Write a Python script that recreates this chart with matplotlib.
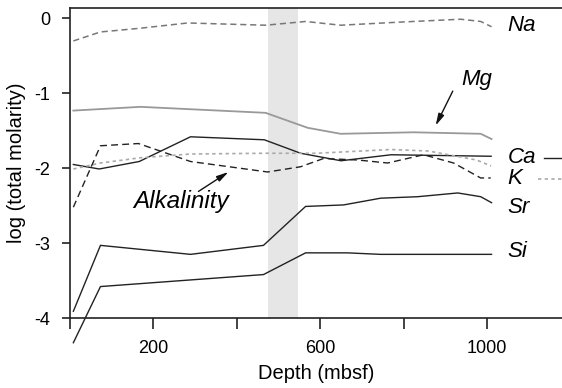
import matplotlib.pyplot as plt

plt.rcParams['font.family'] = ['Liberation Sans', 'DejaVu Sans']

# depth (mbsf) and log total molarity
na_depth = [8, 73, 169, 282, 469, 565, 649, 786, 937, 985, 1011]
na_val = [-0.30, -0.18, -0.13, -0.06, -0.09, -0.04, -0.09, -0.05, -0.01, -0.04, -0.11]

mg_depth = [8, 169, 469, 570, 649, 824, 985, 1011]
mg_val = [-1.23, -1.18, -1.26, -1.46, -1.54, -1.52, -1.54, -1.61]

ca_depth = [8, 70, 166, 289, 466, 553, 650, 770, 1010]
ca_val = [-1.95, -2.01, -1.91, -1.58, -1.62, -1.80, -1.90, -1.82, -1.84]

k_depth = [8, 73, 169, 289, 469, 590, 770, 860, 975, 1010]
k_val = [-2.01, -1.93, -1.86, -1.81, -1.80, -1.80, -1.75, -1.77, -1.89, -1.97]

alk_depth = [8, 73, 164, 289, 474, 553, 608, 690, 762, 848, 920, 985, 1009]
alk_val = [-2.52, -1.70, -1.67, -1.91, -2.05, -1.98, -1.87, -1.89, -1.93, -1.82, -1.93, -2.13, -2.13]

sr_depth = [8, 73, 289, 464, 565, 656, 745, 834, 930, 985, 1011]
sr_val = [-3.91, -3.03, -3.15, -3.03, -2.51, -2.49, -2.40, -2.38, -2.33, -2.38, -2.46]

si_depth = [8, 73, 464, 565, 665, 745, 1011]
si_val = [-4.33, -3.58, -3.42, -3.13, -3.13, -3.15, -3.15]

band = (476, 546)

fig = plt.figure(figsize=(5.62, 3.88), dpi=100)
ax = fig.add_axes([0.1246, 0.1804, 0.8754, 0.7990])

ax.axvspan(band[0], band[1], color='#e6e6e6', lw=0, zorder=0)

ax.plot(na_depth, na_val, color='#777777', lw=1.1, dashes=(4, 2.5))
ax.plot(mg_depth, mg_val, color='#999999', lw=1.3)
ax.plot(ca_depth, ca_val, color='#222222', lw=1.0)
ax.plot(k_depth, k_val, color='#aaaaaa', lw=1.2, dashes=(2, 2))
ax.plot(alk_depth, alk_val, color='#222222', lw=1.0, dashes=(5, 3))
ax.plot(sr_depth, sr_val, color='#222222', lw=1.0, clip_on=False)
ax.plot(si_depth, si_val, color='#222222', lw=1.0, clip_on=False)

# labels at right
lab_x = 1050
ax.text(lab_x, -0.09, 'Na', style='italic', fontsize=16, va='center')
ax.text(lab_x, -1.85, 'Ca', style='italic', fontsize=16, va='center')
ax.text(lab_x, -2.14, 'K', style='italic', fontsize=16, va='center')
ax.text(lab_x, -2.53, 'Sr', style='italic', fontsize=16, va='center')
ax.text(lab_x, -3.11, 'Si', style='italic', fontsize=16, va='center')
ax.plot([1136, 1180], [-1.86, -1.86], color='#222222', lw=1.0, clip_on=False)
ax.plot([1122, 1180], [-2.15, -2.15], color='#aaaaaa', lw=1.2, dashes=(2, 2), clip_on=False)

arrow = dict(arrowstyle='-|>,head_length=0.7,head_width=0.18', color='#111111',
             lw=1.0, shrinkA=0, shrinkB=0)
ax.text(975, -0.82, 'Mg', style='italic', fontsize=16, ha='center', va='center')
ax.annotate('', xy=(877, -1.43), xytext=(918, -0.97), arrowprops=arrow)
ax.text(267, -2.45, 'Alkalinity', style='italic', fontsize=17.5, ha='center', va='center')
ax.annotate('', xy=(380, -2.05), xytext=(308, -2.31), arrowprops=arrow)

ax.set_xlim(0, 1180)
ax.set_ylim(-4, 0.14)

ax.spines['right'].set_visible(False)
for s in ['left', 'bottom', 'top']:
    ax.spines[s].set_linewidth(1.2)
    ax.spines[s].set_color('#222222')

ax.set_xticks([0, 200, 400, 600, 800, 1000])
ax.set_xticklabels(['', '200', '', '600', '', '1000'])
ax.set_yticks([0, -1, -2, -3, -4])
ax.set_yticklabels(['0', '-1', '-2', '-3', '-4'])
ax.tick_params(axis='x', length=8, width=1.2, pad=8, labelsize=13, color='#222222')
ax.tick_params(axis='y', length=6, width=1.2, pad=8, labelsize=13, color='#222222')

ax.set_xlabel('Depth (mbsf)', fontsize=14.5, labelpad=5)
ax.set_ylabel('log (total molarity)', fontsize=14.5)
ax.yaxis.set_label_coords(-0.09, 0.5)

fig.savefig('out.png', dpi=100)
